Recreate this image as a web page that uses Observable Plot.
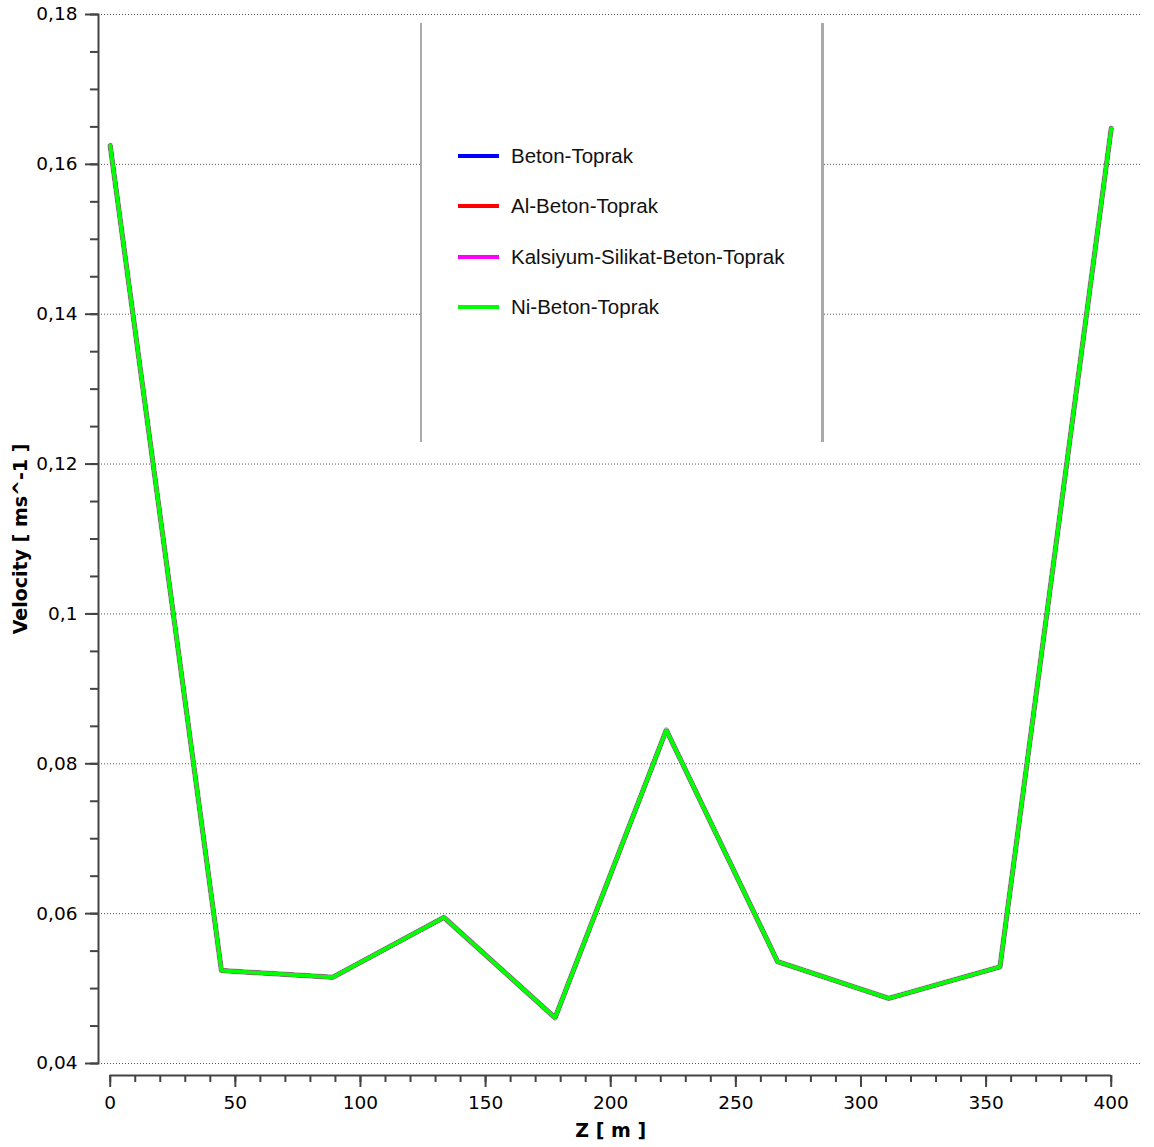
<!DOCTYPE html>
<html>
<head>
<meta charset="utf-8">
<script src="https://cdn.jsdelivr.net/npm/d3@7"></script>
<script src="https://cdn.jsdelivr.net/npm/@observablehq/plot@0.6"></script>
<style>
  html, body { margin: 0; padding: 0; background: #fff; }
  #wrap { position: relative; width: 1154px; height: 1147px; }
  #legend {
    position: absolute; left: 420px; top: 23px; width: 399px; height: 419px;
    background: #fff; border-left: 2px solid #a9a9a9; border-right: 3px solid #a9a9a9;
    font-family: "Liberation Sans", Arial, sans-serif; font-size: 20.5px; color: #111;
  }
  .row { position: absolute; left: 36px; height: 24px; display: flex; align-items: center; }
  .sw { width: 41px; height: 4px; margin-right: 12px; }
</style>
</head>
<body>
<div id="wrap"><div id="legend"></div></div>
<script>
// Data
const zValues = [0, 44.44, 88.89, 133.33, 177.78, 222.22, 266.67, 311.11, 355.56, 400];
const betonToprak      = [0.1625, 0.0524, 0.0515, 0.0595, 0.0461, 0.0845, 0.0536, 0.0487, 0.0529, 0.1648];
const alBetonToprak    = [0.1625, 0.0524, 0.0515, 0.0595, 0.0461, 0.0845, 0.0536, 0.0487, 0.0529, 0.1648];
const kalsiyumToprak   = [0.1625, 0.0524, 0.0515, 0.0595, 0.0461, 0.0845, 0.0536, 0.0487, 0.0529, 0.1648];
const niBetonToprak    = [0.1625, 0.0524, 0.0515, 0.0595, 0.0461, 0.0845, 0.0536, 0.0487, 0.0529, 0.1648];

const seriesNames  = ["Beton-Toprak", "Al-Beton-Toprak", "Kalsiyum-Silikat-Beton-Toprak", "Ni-Beton-Toprak"];
const seriesColors = ["#0000ff", "#ff0000", "#ff00ff", "#00ff00"];
const seriesValues = [betonToprak, alBetonToprak, kalsiyumToprak, niBetonToprak];

const xTicks = [0, 50, 100, 150, 200, 250, 300, 350, 400];
const xMinorTicks = d3.range(0, 401, 10);
const yTicks = [0.04, 0.06, 0.08, 0.10, 0.12, 0.14, 0.16, 0.18];
const yMinorTicks = d3.range(0.04, 0.1801, 0.005);
const xDomain = [-4.68, 412.5];
const yDomain = [0.04, 0.18];

const rows = [];
seriesValues.forEach((vals, i) => vals.forEach((v, j) => rows.push({z: zValues[j], v, s: seriesNames[i]})));

const fmt = d => d3.format("~r")(+d.toFixed(3)).replace(".", ",");
const axisColor = "#444";

const chart = Plot.plot({
  width: 1154,
  height: 1147,
  marginTop: 14,
  marginBottom: 84,
  marginLeft: 98,
  marginRight: 12,
  style: {fontFamily: "DejaVu Sans, sans-serif", fontSize: "18.5px", color: "#000", background: "#fff"},
  x: {domain: xDomain, label: null},
  y: {domain: yDomain, label: null},
  color: {domain: seriesNames, range: seriesColors},
  marks: [
    Plot.gridY(yTicks, {stroke: "#555", strokeOpacity: 1, strokeWidth: 1, strokeDasharray: "1,2"}),
    // y axis
    Plot.frame({anchor: "left", stroke: axisColor, strokeWidth: 2}),
    Plot.axisY(yMinorTicks, {tickSize: 8, text: null, label: null, stroke: axisColor, strokeWidth: 2}),
    Plot.axisY(yTicks, {tickSize: 13, tickPadding: 8, tickFormat: fmt, stroke: axisColor, strokeWidth: 2, label: null, fill: "#000"}),
    // x axis (offset below the plot)
    Plot.ruleY([d3.min(yDomain)], {x1: d3.min(xTicks), x2: d3.max(xTicks), dy: 12, stroke: axisColor, strokeWidth: 2}),
    Plot.axisX(xMinorTicks, {tickSize: 7, dy: 12, text: null, label: null, stroke: axisColor, strokeWidth: 2}),
    Plot.axisX(xTicks, {tickSize: 12, dy: 12, tickPadding: 8, stroke: axisColor, strokeWidth: 2, label: null, fill: "#000"}),
    // axis titles
    Plot.text(["Z [ m ]"], {x: d3.mean(d3.extent(xTicks)), frameAnchor: "bottom", dy: 73, fontWeight: "bold", fontSize: 19, fill: "#000"}),
    Plot.text(["Velocity [ ms^-1 ]"], {frameAnchor: "left", textAnchor: "middle", rotate: -90, dx: -78, fontWeight: "bold", fontSize: 19, fill: "#000"}),
    // data
    Plot.line(rows.filter(d => d.s === seriesNames[3]), {x: "z", y: "v", stroke: "#777", strokeWidth: 5.5, strokeOpacity: 0.6}),
    Plot.line(rows, {x: "z", y: "v", z: "s", stroke: "s", strokeWidth: 4, strokeLinejoin: "miter"})
  ]
});

const wrap = document.getElementById("wrap");
wrap.insertBefore(chart, wrap.firstChild);
chart.style.position = "absolute";
chart.style.left = "0";
chart.style.top = "0";

const legend = document.getElementById("legend");
seriesNames.forEach((name, i) => {
  const r = document.createElement("div");
  r.className = "row";
  r.style.top = (121 + i * 50.3) + "px";
  const sw = document.createElement("div");
  sw.className = "sw";
  sw.style.background = seriesColors[i];
  const t = document.createElement("span");
  t.textContent = name;
  r.appendChild(sw); r.appendChild(t);
  legend.appendChild(r);
});
</script>
</body>
</html>
